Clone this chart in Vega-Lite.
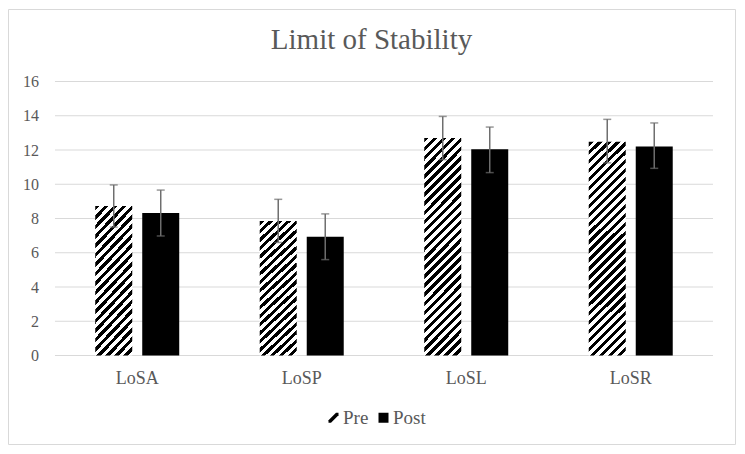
{
  "$schema": "https://vega.github.io/schema/vega-lite/v6.json",
  "width": 727,
  "height": 435,
  "autosize": "none",
  "padding": {"left": 8, "top": 9, "right": 10, "bottom": 10},
  "background": "white",
  "title": {"text": "Limit of Stability", "font": "Liberation Serif", "fontSize": 29, "fontWeight": "normal", "color": "#595959", "offset": -69, "baseline": "alphabetic", "anchor": "middle", "frame": "group"},
  "config": {
    "view": {"stroke": "#d9d9d9", "strokeWidth": 1},
    "font": "Liberation Serif",
    "axis": {"labelFont": "Liberation Serif", "labelColor": "#595959"},
    "legend": {"labelFont": "Liberation Serif", "labelColor": "#595959"}
  },
  "datasets": {
    "bars": [
      {"cat": "LoSA", "group": "Pre", "mean": 8.73, "lo": 7.5, "hi": 9.96},
      {"cat": "LoSA", "group": "Post", "mean": 8.32, "lo": 6.98, "hi": 9.66},
      {"cat": "LoSP", "group": "Pre", "mean": 7.85, "lo": 6.6, "hi": 9.12},
      {"cat": "LoSP", "group": "Post", "mean": 6.94, "lo": 5.6, "hi": 8.27},
      {"cat": "LoSL", "group": "Pre", "mean": 12.7, "lo": 11.44, "hi": 13.96},
      {"cat": "LoSL", "group": "Post", "mean": 12.04, "lo": 10.68, "hi": 13.34},
      {"cat": "LoSR", "group": "Pre", "mean": 12.48, "lo": 11.25, "hi": 13.79},
      {"cat": "LoSR", "group": "Post", "mean": 12.21, "lo": 10.93, "hi": 13.58}
    ],
    "grid": [{"v": 0}, {"v": 2}, {"v": 4}, {"v": 6}, {"v": 8}, {"v": 10}, {"v": 12}, {"v": 14}, {"v": 16}]
  },
  "data": {"name": "bars"},
  "layer": [
    {
      "data": {"name": "grid"},
      "mark": {"type": "rule", "color": "#d9d9d9", "strokeWidth": 1},
      "encoding": {
        "x": {"datum": "LoSA", "type": "nominal", "bandPosition": 0,
          "scale": {"domain": ["LoSA", "LoSP", "LoSL", "LoSR"], "paddingInner": 0, "paddingOuter": 0.2097, "align": 0.681},
          "axis": {"domain": false, "ticks": false, "tickSize": 0, "labelPadding": 28, "labelBaseline": "alphabetic", "offset": -88.5, "labelFontSize": 18, "labelAngle": 0, "title": null}},
        "x2": {"datum": "LoSR", "bandPosition": 1},
        "y": {"field": "v", "type": "quantitative",
          "scale": {"domain": [-5.168, 20.234], "nice": false, "zero": false},
          "axis": {"values": [0, 2, 4, 6, 8, 10, 12, 14, 16], "grid": false, "domain": false, "ticks": false, "tickSize": 0, "labelPadding": 0, "offset": -30.5, "labelFontSize": 16, "title": null}}
      }
    },
    {
      "transform": [{"filter": "datum.group === 'Pre' && (datum.cat === 'LoSA' || datum.cat === 'LoSP')"}],
      "mark": {"type": "bar", "stroke": null, "fill": {"gradient": "linear", "x1": 0, "y1": 0, "x2": 0.30757, "y2": 1.18042, "stops": [
        {"offset": 0, "color": "#000"},
        {"offset": 0.025, "color": "#000"}, {"offset": 0.025, "color": "#fff"},
        {"offset": 0.05, "color": "#fff"}, {"offset": 0.05, "color": "#000"},
        {"offset": 0.075, "color": "#000"}, {"offset": 0.075, "color": "#fff"},
        {"offset": 0.1, "color": "#fff"}, {"offset": 0.1, "color": "#000"},
        {"offset": 0.125, "color": "#000"}, {"offset": 0.125, "color": "#fff"},
        {"offset": 0.15, "color": "#fff"}, {"offset": 0.15, "color": "#000"},
        {"offset": 0.175, "color": "#000"}, {"offset": 0.175, "color": "#fff"},
        {"offset": 0.2, "color": "#fff"}, {"offset": 0.2, "color": "#000"},
        {"offset": 0.225, "color": "#000"}, {"offset": 0.225, "color": "#fff"},
        {"offset": 0.25, "color": "#fff"}, {"offset": 0.25, "color": "#000"},
        {"offset": 0.275, "color": "#000"}, {"offset": 0.275, "color": "#fff"},
        {"offset": 0.3, "color": "#fff"}, {"offset": 0.3, "color": "#000"},
        {"offset": 0.325, "color": "#000"}, {"offset": 0.325, "color": "#fff"},
        {"offset": 0.35, "color": "#fff"}, {"offset": 0.35, "color": "#000"},
        {"offset": 0.375, "color": "#000"}, {"offset": 0.375, "color": "#fff"},
        {"offset": 0.4, "color": "#fff"}, {"offset": 0.4, "color": "#000"},
        {"offset": 0.425, "color": "#000"}, {"offset": 0.425, "color": "#fff"},
        {"offset": 0.45, "color": "#fff"}, {"offset": 0.45, "color": "#000"},
        {"offset": 0.475, "color": "#000"}, {"offset": 0.475, "color": "#fff"},
        {"offset": 0.5, "color": "#fff"}, {"offset": 0.5, "color": "#000"},
        {"offset": 0.525, "color": "#000"}, {"offset": 0.525, "color": "#fff"},
        {"offset": 0.55, "color": "#fff"}, {"offset": 0.55, "color": "#000"},
        {"offset": 0.575, "color": "#000"}, {"offset": 0.575, "color": "#fff"},
        {"offset": 0.6, "color": "#fff"}, {"offset": 0.6, "color": "#000"},
        {"offset": 0.625, "color": "#000"}, {"offset": 0.625, "color": "#fff"},
        {"offset": 0.65, "color": "#fff"}, {"offset": 0.65, "color": "#000"},
        {"offset": 0.675, "color": "#000"}, {"offset": 0.675, "color": "#fff"},
        {"offset": 0.7, "color": "#fff"}, {"offset": 0.7, "color": "#000"},
        {"offset": 0.725, "color": "#000"}, {"offset": 0.725, "color": "#fff"},
        {"offset": 0.75, "color": "#fff"}, {"offset": 0.75, "color": "#000"},
        {"offset": 0.775, "color": "#000"}, {"offset": 0.775, "color": "#fff"},
        {"offset": 0.8, "color": "#fff"}, {"offset": 0.8, "color": "#000"},
        {"offset": 0.825, "color": "#000"}, {"offset": 0.825, "color": "#fff"},
        {"offset": 0.85, "color": "#fff"}, {"offset": 0.85, "color": "#000"},
        {"offset": 0.875, "color": "#000"}, {"offset": 0.875, "color": "#fff"},
        {"offset": 0.9, "color": "#fff"}, {"offset": 0.9, "color": "#000"},
        {"offset": 0.925, "color": "#000"}, {"offset": 0.925, "color": "#fff"},
        {"offset": 0.95, "color": "#fff"}, {"offset": 0.95, "color": "#000"},
        {"offset": 0.975, "color": "#000"}, {"offset": 0.975, "color": "#fff"},
        {"offset": 1, "color": "#fff"}
      ]}},
      "encoding": {
        "x": {"field": "cat", "type": "nominal"},
        "xOffset": {"field": "group", "type": "nominal", "scale": {"domain": ["Pre", "Post"], "paddingInner": 0.2128, "paddingOuter": 0.8564}},
        "y": {"field": "mean", "type": "quantitative", "title": null}
      }
    },
    {
      "transform": [{"filter": "datum.group === 'Pre' && (datum.cat === 'LoSL' || datum.cat === 'LoSR')"}],
      "mark": {"type": "bar", "stroke": null, "fill": {"gradient": "linear", "x1": 0, "y1": 0, "x2": 0.19541, "y2": 1.13814, "stops": [
        {"offset": 0, "color": "#000"},
        {"offset": 0.0179, "color": "#000"}, {"offset": 0.0179, "color": "#fff"},
        {"offset": 0.0357, "color": "#fff"}, {"offset": 0.0357, "color": "#000"},
        {"offset": 0.0536, "color": "#000"}, {"offset": 0.0536, "color": "#fff"},
        {"offset": 0.0714, "color": "#fff"}, {"offset": 0.0714, "color": "#000"},
        {"offset": 0.0893, "color": "#000"}, {"offset": 0.0893, "color": "#fff"},
        {"offset": 0.1071, "color": "#fff"}, {"offset": 0.1071, "color": "#000"},
        {"offset": 0.125, "color": "#000"}, {"offset": 0.125, "color": "#fff"},
        {"offset": 0.1429, "color": "#fff"}, {"offset": 0.1429, "color": "#000"},
        {"offset": 0.1607, "color": "#000"}, {"offset": 0.1607, "color": "#fff"},
        {"offset": 0.1786, "color": "#fff"}, {"offset": 0.1786, "color": "#000"},
        {"offset": 0.1964, "color": "#000"}, {"offset": 0.1964, "color": "#fff"},
        {"offset": 0.2143, "color": "#fff"}, {"offset": 0.2143, "color": "#000"},
        {"offset": 0.2321, "color": "#000"}, {"offset": 0.2321, "color": "#fff"},
        {"offset": 0.25, "color": "#fff"}, {"offset": 0.25, "color": "#000"},
        {"offset": 0.2679, "color": "#000"}, {"offset": 0.2679, "color": "#fff"},
        {"offset": 0.2857, "color": "#fff"}, {"offset": 0.2857, "color": "#000"},
        {"offset": 0.3036, "color": "#000"}, {"offset": 0.3036, "color": "#fff"},
        {"offset": 0.3214, "color": "#fff"}, {"offset": 0.3214, "color": "#000"},
        {"offset": 0.3393, "color": "#000"}, {"offset": 0.3393, "color": "#fff"},
        {"offset": 0.3571, "color": "#fff"}, {"offset": 0.3571, "color": "#000"},
        {"offset": 0.375, "color": "#000"}, {"offset": 0.375, "color": "#fff"},
        {"offset": 0.3929, "color": "#fff"}, {"offset": 0.3929, "color": "#000"},
        {"offset": 0.4107, "color": "#000"}, {"offset": 0.4107, "color": "#fff"},
        {"offset": 0.4286, "color": "#fff"}, {"offset": 0.4286, "color": "#000"},
        {"offset": 0.4464, "color": "#000"}, {"offset": 0.4464, "color": "#fff"},
        {"offset": 0.4643, "color": "#fff"}, {"offset": 0.4643, "color": "#000"},
        {"offset": 0.4821, "color": "#000"}, {"offset": 0.4821, "color": "#fff"},
        {"offset": 0.5, "color": "#fff"}, {"offset": 0.5, "color": "#000"},
        {"offset": 0.5179, "color": "#000"}, {"offset": 0.5179, "color": "#fff"},
        {"offset": 0.5357, "color": "#fff"}, {"offset": 0.5357, "color": "#000"},
        {"offset": 0.5536, "color": "#000"}, {"offset": 0.5536, "color": "#fff"},
        {"offset": 0.5714, "color": "#fff"}, {"offset": 0.5714, "color": "#000"},
        {"offset": 0.5893, "color": "#000"}, {"offset": 0.5893, "color": "#fff"},
        {"offset": 0.6071, "color": "#fff"}, {"offset": 0.6071, "color": "#000"},
        {"offset": 0.625, "color": "#000"}, {"offset": 0.625, "color": "#fff"},
        {"offset": 0.6429, "color": "#fff"}, {"offset": 0.6429, "color": "#000"},
        {"offset": 0.6607, "color": "#000"}, {"offset": 0.6607, "color": "#fff"},
        {"offset": 0.6786, "color": "#fff"}, {"offset": 0.6786, "color": "#000"},
        {"offset": 0.6964, "color": "#000"}, {"offset": 0.6964, "color": "#fff"},
        {"offset": 0.7143, "color": "#fff"}, {"offset": 0.7143, "color": "#000"},
        {"offset": 0.7321, "color": "#000"}, {"offset": 0.7321, "color": "#fff"},
        {"offset": 0.75, "color": "#fff"}, {"offset": 0.75, "color": "#000"},
        {"offset": 0.7679, "color": "#000"}, {"offset": 0.7679, "color": "#fff"},
        {"offset": 0.7857, "color": "#fff"}, {"offset": 0.7857, "color": "#000"},
        {"offset": 0.8036, "color": "#000"}, {"offset": 0.8036, "color": "#fff"},
        {"offset": 0.8214, "color": "#fff"}, {"offset": 0.8214, "color": "#000"},
        {"offset": 0.8393, "color": "#000"}, {"offset": 0.8393, "color": "#fff"},
        {"offset": 0.8571, "color": "#fff"}, {"offset": 0.8571, "color": "#000"},
        {"offset": 0.875, "color": "#000"}, {"offset": 0.875, "color": "#fff"},
        {"offset": 0.8929, "color": "#fff"}, {"offset": 0.8929, "color": "#000"},
        {"offset": 0.9107, "color": "#000"}, {"offset": 0.9107, "color": "#fff"},
        {"offset": 0.9286, "color": "#fff"}, {"offset": 0.9286, "color": "#000"},
        {"offset": 0.9464, "color": "#000"}, {"offset": 0.9464, "color": "#fff"},
        {"offset": 0.9643, "color": "#fff"}, {"offset": 0.9643, "color": "#000"},
        {"offset": 0.9821, "color": "#000"}, {"offset": 0.9821, "color": "#fff"},
        {"offset": 1, "color": "#fff"}
      ]}},
      "encoding": {
        "x": {"field": "cat", "type": "nominal"},
        "xOffset": {"field": "group", "type": "nominal"},
        "y": {"field": "mean", "type": "quantitative", "title": null}
      }
    },
    {
      "transform": [{"filter": "datum.group === 'Post'"}],
      "mark": {"type": "bar", "fill": "#000", "stroke": null},
      "encoding": {
        "x": {"field": "cat", "type": "nominal"},
        "xOffset": {"field": "group", "type": "nominal"},
        "y": {"field": "mean", "type": "quantitative", "title": null}
      }
    },
    {
      "mark": {"type": "rule", "color": "#6e6e6e", "strokeWidth": 1.5},
      "encoding": {
        "x": {"field": "cat", "type": "nominal"},
        "xOffset": {"field": "group", "type": "nominal"},
        "y": {"field": "lo", "type": "quantitative", "title": null},
        "y2": {"field": "hi"}
      }
    },
    {
      "mark": {"type": "tick", "orient": "horizontal", "color": "#6e6e6e", "size": 8, "thickness": 1.5},
      "encoding": {
        "x": {"field": "cat", "type": "nominal"},
        "xOffset": {"field": "group", "type": "nominal"},
        "y": {"field": "lo", "type": "quantitative", "title": null}
      }
    },
    {
      "mark": {"type": "tick", "orient": "horizontal", "color": "#6e6e6e", "size": 8, "thickness": 1.5},
      "encoding": {
        "x": {"field": "cat", "type": "nominal"},
        "xOffset": {"field": "group", "type": "nominal"},
        "y": {"field": "hi", "type": "quantitative", "title": null}
      }
    },
    {
      "mark": {"type": "point", "filled": true, "color": "#000", "opacity": 0},
      "encoding": {
        "x": {"field": "cat", "type": "nominal"},
        "xOffset": {"field": "group", "type": "nominal"},
        "y": {"field": "mean", "type": "quantitative", "title": null},
        "shape": {"field": "group", "type": "nominal",
          "scale": {"domain": ["Pre", "Post"], "range": ["M-1,0.5L0.5,-1L1,-1L1,-0.5L-0.5,1L-1,1Z", "square"]},
          "legend": {"title": null, "orient": "none", "legendX": 316, "legendY": 399, "direction": "horizontal", "symbolSize": 100, "symbolOpacity": 1, "symbolFillColor": "#000", "symbolStrokeWidth": 0, "labelFontSize": 19, "labelOffset": 0, "columnPadding": 5}}
      }
    }
  ]
}
